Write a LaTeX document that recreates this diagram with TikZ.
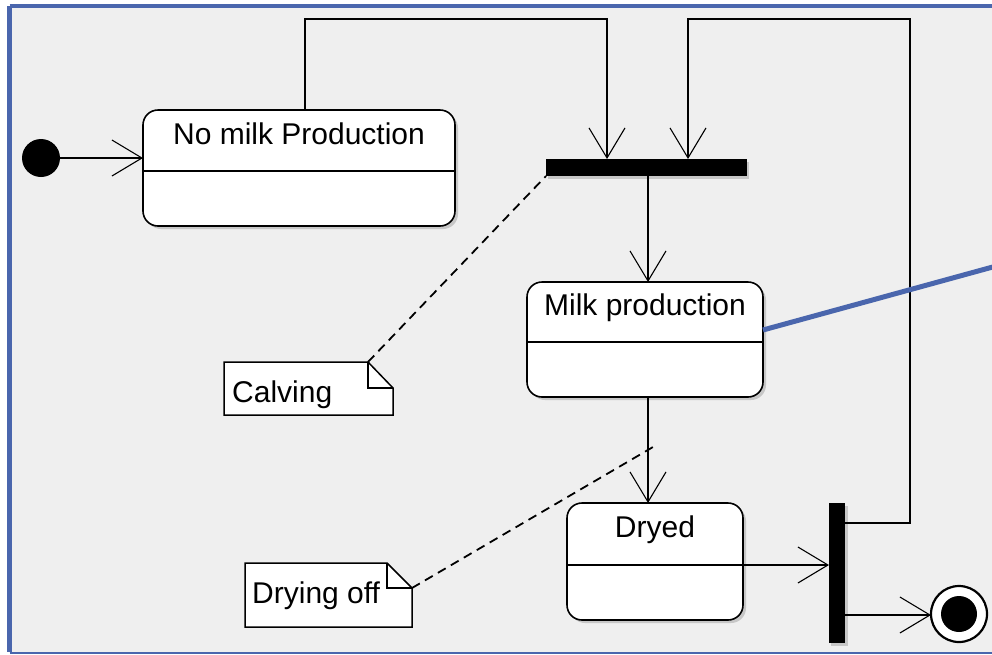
\documentclass[tikz,border=0pt]{standalone}
\usepackage{fontspec}
\setmainfont{Liberation Sans}
\usetikzlibrary{arrows.meta}

\definecolor{framecol}{HTML}{4A66AD}
\definecolor{canvas}{HTML}{EFEFEF}

\tikzset{
  statebox/.style={draw=black, line width=1.6pt, fill=white, rounded corners=15pt,
    inner sep=0pt, outer sep=0pt},
  shade/.style={fill=black!22, draw=none, rounded corners=15pt},
  bar/.style={fill=black, draw=none, inner sep=0pt, outer sep=0pt},
  flow/.style={draw=black, line width=1.3pt,
    -{Straight Barb[length=30pt, width=36pt, line width=1.1pt]}},
  notelink/.style={draw=black, line width=1.8pt, dash pattern=on 9pt off 6pt},
  notebox/.style={draw=black, line width=1.5pt, fill=white, line join=miter},
  titletext/.style={font=\fontsize{30}{36}\selectfont, inner sep=0pt, anchor=base},
}

\begin{document}
\begin{tikzpicture}[x=1pt, y=-1pt]
  % page and framed canvas
  \useasboundingbox (0,0) rectangle (992,654);
  \fill[white] (0,0) rectangle (992,654);
  \begin{scope}
    \clip (0,0) rectangle (992,654);
    \fill[canvas] (9.5,6) rectangle (1010,652);
    \draw[framecol, line width=4.5pt] (9.5,6) -- (1010,6);
    \draw[framecol, line width=4.5pt] (9.5,6) -- (9.5,652);
    \draw[framecol, line width=2pt] (9.5,653) -- (1010,653);
  \end{scope}

  % soft shadows behind states and bars
  \fill[shade] (146,113) rectangle (458,229);
  \fill[shade] (530,285) rectangle (766,400);
  \fill[shade] (570,506) rectangle (746,623);
  \fill[black!22] (548,162) rectangle (749,179);
  \fill[black!22] (831,506) rectangle (848,646);

  % initial and final pseudo-states
  \node[circle, fill=black, minimum size=38pt, inner sep=0pt, outer sep=0pt] (init) at (41,158) {};
  \node[circle, draw=black, line width=2.2pt, fill=white, minimum size=56pt, inner sep=0pt, outer sep=0pt] (final) at (959,614) {};
  \node[circle, fill=black, minimum size=36pt, inner sep=0pt] (finaldot) at (959,614) {};

  % states
  \node[statebox, minimum width=312pt, minimum height=116pt] (nomilk) at (299,168) {};
  \draw[line width=1.6pt] (143,171) -- (455,171);
  \node[titletext] (nomilktitle) at (299,144) {No milk Production};

  \node[statebox, minimum width=236pt, minimum height=115pt] (milk) at (645,339.5) {};
  \draw[line width=1.6pt] (527,342) -- (763,342);
  \node[titletext] (milktitle) at (645,315) {Milk production};

  \node[statebox, minimum width=176pt, minimum height=117pt] (dryed) at (655,561.5) {};
  \draw[line width=1.6pt] (567,565) -- (743,565);
  \node[titletext] (dryedtitle) at (655,537) {Dryed};

  % synchronisation bars
  \node[bar, minimum width=201pt, minimum height=17pt] (join) at (646.5,167.5) {};
  \node[bar, minimum width=16pt, minimum height=140pt] (fork) at (837,573) {};

  % notes with folded corners
  \path[notebox] (224,362) -- (368,362) -- (393,388) -- (393,415) -- (224,415) -- cycle;
  \draw[line width=1.3pt] (368,362) -- (368,388) -- (393,388);
  \node[titletext, anchor=base west] (calving) at (232,402) {Calving};
  \coordinate (calvingcorner) at (368,362);

  \path[notebox] (245,563) -- (387,563) -- (412,588) -- (412,627) -- (245,627) -- cycle;
  \draw[line width=1.3pt] (387,563) -- (387,588) -- (412,588);
  \node[titletext, anchor=base west] (dryingoff) at (252,603) {Drying off};
  \coordinate (dryingcorner) at (412,588);

  % transitions
  \draw[flow] (init.east) -- (nomilk.west |- init.east);
  \draw[flow] (nomilk.north -| 305,0) -- (305,19) -- (607,19) -- (join.north -| 607,0);
  \draw[flow] (fork.east |- 0,523) -- (910,523) -- (910,19) -- (688,19) -- (join.north -| 688,0);
  \draw[flow] (join.south -| 648,0) -- (milk.north -| 648,0);
  \draw[flow] (milk.south -| 648,0) -- (dryed.north -| 648,0);
  \draw[flow] (dryed.east |- 0,565) -- (fork.west |- 0,565);
  \draw[flow] (fork.east |- 0,615) -- (final.west |- 0,615);

  % note anchors
  \coordinate (dryarrow) at (653,447);
  \draw[notelink] (calvingcorner) -- (join.south west);
  \draw[notelink] (dryingcorner) -- (dryarrow);

  % callout leaving the milk production state
  \coordinate (callout) at (1000,265);
  \begin{scope}
    \clip (0,0) rectangle (992,654);
    \draw[framecol, line width=5pt] (milk.east |- 0,330) -- (callout);
  \end{scope}
\end{tikzpicture}
\end{document}
